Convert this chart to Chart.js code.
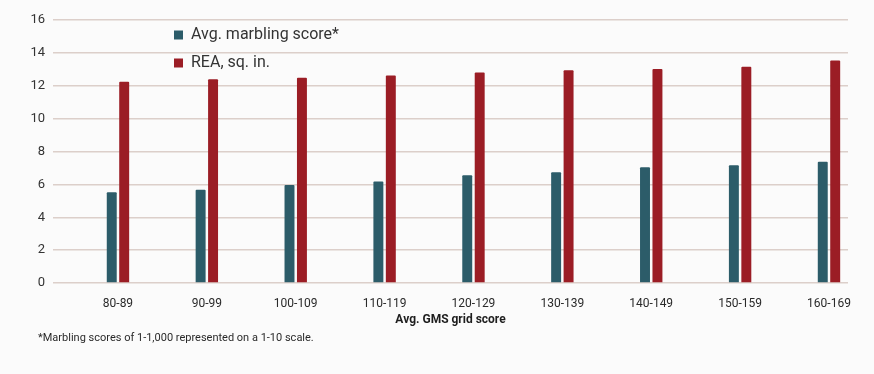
<!DOCTYPE html>
<html>
<head>
<meta charset="utf-8">
<script src="https://cdn.jsdelivr.net/npm/chart.js@4"></script>
<style>
  html, body { margin: 0; padding: 0; background: #fbfbfb; }
  #wrap { width: 874px; height: 374px; }
</style>
</head>
<body>
<div id="wrap"><canvas id="barChart" width="874" height="374"></canvas></div>
<script>
// GMS grid score bands
const categories = ['80-89', '90-99', '100-109', '110-119', '120-129', '130-139', '140-149', '150-159', '160-169'];

// Series values
const marblingScores = [5.52, 5.68, 5.96, 6.18, 6.55, 6.74, 7.04, 7.16, 7.38];
const reaValues = [12.24, 12.4, 12.48, 12.62, 12.8, 12.94, 13.02, 13.16, 13.53];

// Y tick values
const yTicks = [0, 2, 4, 6, 8, 10, 12, 14, 16];

const footnote = '*Marbling scores of 1-1,000 represented on a 1-10 scale.';

// Bars sit on a linear x scale so the grid can reach past the first/last band
const toPoints = values => values.map((v, i) => ({ x: i, y: v }));

// Move the in-plot legend and the footnote to where the original has them
const boxShift = {
  id: 'boxShift',
  afterLayout(chart) {
    chart.legend.left = chart.chartArea.left + 109;
    chart.legend.top = chart.chartArea.top - 5;
    chart.titleBlock.left += 10;
  }
};

const ctx = document.getElementById('barChart').getContext('2d');

const barChart = new Chart(ctx, {
  type: 'bar',
  data: {
    datasets: [
      {
        label: 'Avg. marbling score*',
        data: toPoints(marblingScores),
        backgroundColor: '#2c5c69',
        categoryPercentage: 0.28,
        barPercentage: 0.8,
        borderRadius: 1,
      },
      {
        label: 'REA, sq. in.',
        data: toPoints(reaValues),
        backgroundColor: '#9b1d25',
        categoryPercentage: 0.28,
        barPercentage: 0.8,
        borderRadius: 1,
      },
    ],
  },
  options: {
    responsive: false,
    animation: false,
    layout: {
      padding: { left: 28, right: 26, top: 20, bottom: 29 },
    },
    scales: {
      x: {
        type: 'linear',
        offset: false,
        min: -0.731,
        max: 8.214,
        grid: { display: false, offset: false },
        border: { display: false },
        afterBuildTicks: scale => {
          scale.ticks = categories.map((c, i) => ({ value: i }));
        },
        ticks: {
          autoSkip: false,
          maxRotation: 0,
          padding: 6,
          color: '#2a2a2a',
          font: { family: 'Roboto', size: 12 },
          callback: value => categories[value],
        },
        title: {
          display: true,
          text: 'Avg. GMS grid score',
          color: '#1e1e1e',
          font: { family: 'Roboto', size: 12, weight: 'bold' },
          padding: { top: -5, bottom: 0 },
        },
      },
      y: {
        min: 0,
        max: 16,
        afterBuildTicks: scale => {
          scale.ticks = yTicks.map(v => ({ value: v }));
        },
        afterFit: scale => {
          scale.width = 25;
        },
        grid: {
          color: '#dccfca',
          lineWidth: 1.5,
          drawTicks: false,
        },
        border: { display: false },
        ticks: {
          padding: 8,
          color: '#333333',
          font: { family: 'Roboto', size: 13 },
        },
      },
    },
    plugins: {
      legend: {
        position: 'chartArea',
        align: 'start',
        labels: {
          boxWidth: 9,
          boxHeight: 9,
          padding: 12,
          color: '#333333',
          font: { family: 'Roboto', size: 16 },
        },
      },
      title: {
        display: true,
        position: 'bottom',
        align: 'start',
        text: footnote,
        color: '#2a2a2a',
        font: { family: 'Roboto', size: 11, weight: 'normal' },
        padding: { top: 5, bottom: 0 },
      },
      tooltip: { enabled: false },
    },
  },
  plugins: [boxShift],
});
</script>
</body>
</html>
